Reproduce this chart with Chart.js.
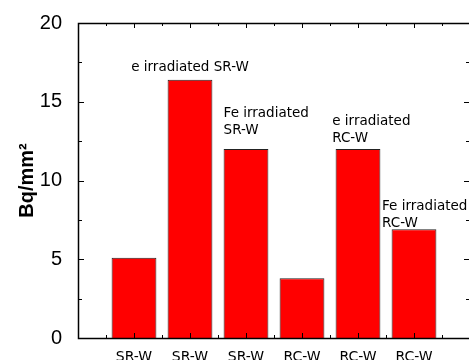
<!DOCTYPE html>
<html><head><meta charset="utf-8">
<script src="https://cdn.jsdelivr.net/npm/chart.js@4/dist/chart.umd.min.js"></script>
<style>html,body{margin:0;padding:0;overflow:hidden;background:#fff}#wrap{width:475px;height:360px;position:relative}</style>
</head><body><div id="wrap"><canvas id="c"></canvas></div>
<script>
const categories = ['SR-W','SR-W','SR-W','RC-W','RC-W','RC-W'];
const values = [5.1, 16.4, 12.0, 3.8, 12.0, 6.9];
const yTicks = [0, 5, 10, 15, 20];
const noteLines = [['e irradiated SR-W'], ['Fe irradiated','SR-W'], ['e irradiated','RC-W'], ['Fe irradiated','RC-W']];
const noteX = [1.0, 1.6, 3.54, 4.43];
const noteY = [17.2, 14.26, 13.75, 8.37];
const noteAlign = ['center','left','left','left'];
const yTitle = 'Bq/mm\u00B2';

const LABEL_FONT = '"DejaVu Sans", sans-serif';

const framePlugin = {
  id: 'frame',
  afterDatasetsDraw(chart) {
    const {ctx, chartArea: a, scales: {x, y}} = chart;
    ctx.save();
    ctx.strokeStyle = '#000';
    ctx.lineWidth = 1;
    ctx.beginPath();
    for (let v = -1; v <= 6.001; v += 0.5) {
      const px = Math.round(x.getPixelForValue(v)) + 0.5;
      const major = Math.abs(v - Math.round(v)) < 1e-6;
      const len = major ? 5 : 3;
      ctx.moveTo(px, a.bottom); ctx.lineTo(px, a.bottom - len);
      ctx.moveTo(px, a.top); ctx.lineTo(px, a.top + len);
    }
    for (let v = 0; v <= 20.001; v += 2.5) {
      const py = Math.round(y.getPixelForValue(v)) + 0.5;
      const major = Math.abs(v / 5 - Math.round(v / 5)) < 1e-6;
      const len = major ? 6 : 4;
      ctx.moveTo(a.left, py); ctx.lineTo(a.left + len, py);
      ctx.moveTo(a.right, py); ctx.lineTo(a.right - len, py);
    }
    ctx.stroke();
    ctx.lineWidth = 1.5;
    ctx.strokeRect(Math.round(a.left) + 0.5, Math.round(a.top) + 0.5, Math.round(a.right - a.left), Math.round(a.bottom - a.top));
    ctx.fillStyle = '#000';
    ctx.font = '13.5px ' + LABEL_FONT;
    ctx.textBaseline = 'middle';
    noteLines.forEach((lines, i) => {
      ctx.textAlign = noteAlign[i];
      const px = x.getPixelForValue(noteX[i]);
      const py0 = y.getPixelForValue(noteY[i]);
      lines.forEach((t, j) => ctx.fillText(t, px, py0 + j * 17));
    });
    ctx.restore();
  }
};

new Chart(document.getElementById('c'), {
  type: 'bar',
  data: {
    datasets: [{
      data: values.map((v, i) => ({x: i, y: v})),
      backgroundColor: '#ff0000',
      borderColor: '#222',
      borderWidth: 1,
      barPercentage: 0.8,
      categoryPercentage: 1.0
    }]
  },
  options: {
    responsive: true,
    maintainAspectRatio: false,
    animation: false,
    layout: {padding: {left: 0, top: 23, right: 5, bottom: 0}},
    plugins: {legend: {display: false}, tooltip: {enabled: false}},
    scales: {
      x: {
        type: 'linear', min: -1, max: 6, offset: false,
        grid: {display: false}, border: {display: false},
        afterBuildTicks: s => { s.ticks = categories.map((c, i) => ({value: i})); },
        ticks: {
          autoSkip: false, maxRotation: 0, padding: 3, color: '#000',
          font: {size: 14, family: LABEL_FONT},
          callback: v => categories[v] ?? ''
        },
        afterFit: s => { s.height = 22; }
      },
      y: {
        min: 0, max: 20,
        grid: {display: false}, border: {display: false},
        afterBuildTicks: s => { s.ticks = yTicks.map(v => ({value: v})); },
        ticks: {padding: 8, color: '#000', font: {size: 20, family: '"Liberation Sans", Arial, sans-serif'}},
        title: {display: true, text: yTitle, color: '#000', padding: {top: 15, bottom: 0},
          font: {size: 20, weight: 'bold', family: '"Liberation Sans", Arial, sans-serif'}},
        afterFit: s => { s.width = 78; }
      }
    }
  },
  plugins: [framePlugin]
});
</script>
</body></html>
